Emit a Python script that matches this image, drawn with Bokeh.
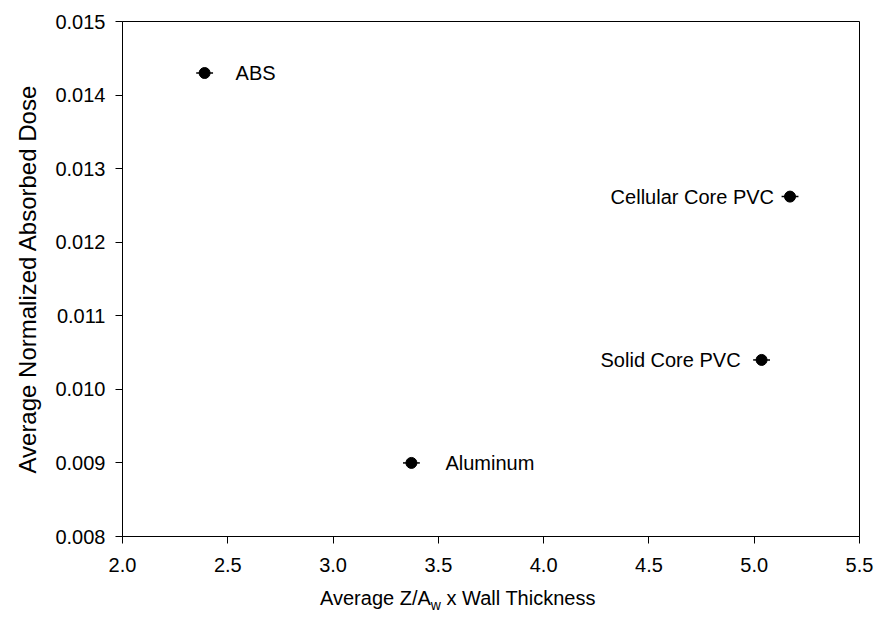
from bokeh.plotting import figure
from bokeh.models import ColumnDataSource, Range1d, FixedTicker, NumeralTickFormatter, Div
from bokeh.layouts import column
from bokeh.embed import file_html
from bokeh.resources import INLINE

# Materials and their measured values
materials = ["ABS", "Cellular Core PVC", "Solid Core PVC", "Aluminum"]
z_over_a_thickness = [2.39, 5.17, 5.035, 3.372]
z_over_a_err = [0.04, 0.04, 0.04, 0.04]
normalized_dose = [0.0143, 0.01262, 0.0104, 0.0090]

x_ticks = [2.0, 2.5, 3.0, 3.5, 4.0, 4.5, 5.0, 5.5]
y_ticks = [0.008, 0.009, 0.010, 0.011, 0.012, 0.013, 0.014, 0.015]

# label placement (pixel offset from the point, alignment)
label_dx = [31, -16, -21, 34]
label_align = ["left", "right", "right", "left"]

FONT = "Liberation Sans"

src = ColumnDataSource(dict(
    x=z_over_a_thickness,
    y=normalized_dose,
    lo=[x - e for x, e in zip(z_over_a_thickness, z_over_a_err)],
    hi=[x + e for x, e in zip(z_over_a_thickness, z_over_a_err)],
    name=materials,
    dx=label_dx,
    align=label_align,
))

p = figure(width=877, height=580, output_backend="svg", toolbar_location=None,
           x_range=Range1d(2.0, 5.5), y_range=Range1d(0.008, 0.015),
           min_border_left=122, min_border_right=18, min_border_top=21,
           min_border_bottom=44)

p.background_fill_color = "white"
p.border_fill_color = "white"
p.outline_line_color = "black"
p.outline_line_width = 1
p.xgrid.visible = False
p.ygrid.visible = False

for ax in (p.xaxis[0], p.yaxis[0]):
    ax.axis_line_color = "black"
    ax.major_tick_line_color = "black"
    ax.major_tick_out = 7
    ax.major_tick_in = 0
    ax.minor_tick_line_color = None
    ax.major_label_text_font = FONT
    ax.major_label_text_font_size = "20px"
    ax.major_label_text_color = "black"
    ax.axis_label_text_font = FONT
    ax.axis_label_text_font_style = "normal"
    ax.axis_label_text_color = "black"

p.xaxis.ticker = FixedTicker(ticks=x_ticks)
p.yaxis.ticker = FixedTicker(ticks=y_ticks)
p.xaxis.formatter = NumeralTickFormatter(format="0.0")
p.yaxis.formatter = NumeralTickFormatter(format="0.000")
p.xaxis.major_label_standoff = 14
p.yaxis.major_label_standoff = 10
p.yaxis.axis_label = "Average Normalized Absorbed Dose"
p.yaxis.axis_label_text_font_size = "24px"
p.yaxis.axis_label_standoff = 11

# horizontal error bars and markers
p.segment(x0="lo", x1="hi", y0="y", y1="y", source=src, line_color="black", line_width=1.5)
p.scatter(x="x", y="y", source=src, size=11, marker="circle",
          fill_color="black", line_color="black")

# point labels
p.text(x="x", y="y", text="name", source=src, x_offset="dx", text_align="align",
       text_baseline="middle", text_font={"value": FONT}, text_font_size={"value": "20px"},
       text_color="black")

# x-axis title (needs a subscript, so it is set as HTML below the plot)
x_title = Div(
    text="Average Z/A<sub style='font-size:14px'>w</sub> x Wall Thickness",
    width=877, height=46, margin=(0, 0, 0, 0),
    styles={"font-family": "'Liberation Sans', Arial, sans-serif", "font-size": "20px",
            "color": "black", "padding-left": "320px", "padding-top": "4px",
            "background-color": "white", "box-sizing": "border-box"},
)

layout = column(p, x_title, spacing=0)

open("out.html", "w").write(file_html(layout, INLINE))
